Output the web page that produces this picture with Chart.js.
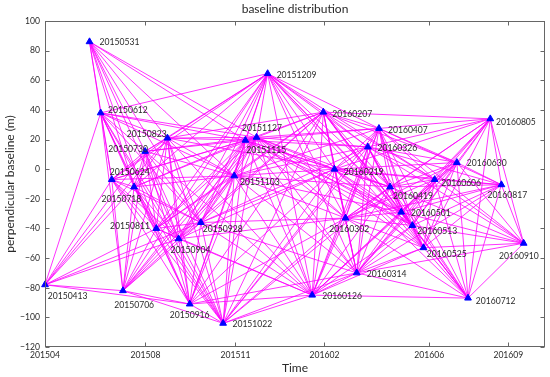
<!DOCTYPE html>
<html><head><meta charset="utf-8">
<script src="https://cdn.jsdelivr.net/npm/chart.js@4"></script>
<style>html,body{margin:0;padding:0;background:#fff}#c{display:block}</style>
</head><body>
<canvas id="c" width="550" height="377"></canvas>
<script>
// ---- data ----
const dates = ['20150413','20150531','20150612','20150624','20150706','20150718','20150730','20150811','20150823','20150904','20150916','20150928','20151022','20151103','20151115','20151127','20151209','20160126','20160207','20160219','20160302','20160314','20160326','20160407','20160419','20160501','20160513','20160525','20160606','20160630','20160712','20160805','20160817','20160910'];
const perpBaseline = [-78,86,38,-7,-82,-12,12,-40,21,-47,-91,-36,-104,-4.5,19.5,21.5,64.5,-85,38.5,0,-33,-70,15,27.5,-12,-29,-38,-53,-7,4.5,-87,34,-10.5,-50];
const xTickDays = [0,108.3,205.3,301.3,414.3,499.5];
const xTickLabels = ['201504','201508','201511','201602','201606','201609'];
const yMin = -120, yMax = 100, yStep = 20;
const xMaxDays = 539;
const maxTemporalDays = 180;   // network thresholds
const maxPerpMeters = 150;

// label placement (pixel offsets of label's left/middle from the marker)
const labelOffsets = [[2.7,11],[10,0.3],[7.3,-2.7],[-2,-7.3],[-8.7,14.7],[-32.6,12],[-37,-2],[-46.3,-2],[-40.6,-3.7],[-8,11.3],[-20,11],[2,7],[9.3,0.7],[5.7,6.7],[1,10.4],[-14.4,-8.7],[9,1.3],[10,1],[9,2.4],[9.3,2.7],[-16.3,10.7],[10,1.3],[9.6,1.6],[9,2],[3,9],[9.7,1],[5,5.7],[3.3,6.3],[6.6,3.7],[10,0.6],[7.7,3],[5.7,3],[-14,10.3],[-24.7,13]];

function toDay(s){return Date.UTC(+s.slice(0,4),+s.slice(4,6)-1,+s.slice(6,8))/86400000;}
const day0 = toDay(dates[0]);
const days = dates.map(d=>toDay(d)-day0);
const pts = days.map((d,i)=>({x:d,y:perpBaseline[i]}));

const edgeSets = [];
for(let i=0;i<pts.length;i++)for(let j=i+1;j<pts.length;j++){
  if(Math.abs(days[j]-days[i])<=maxTemporalDays && Math.abs(perpBaseline[j]-perpBaseline[i])<=maxPerpMeters){
    edgeSets.push({type:'scatter',showLine:true,data:[pts[i],pts[j]],borderColor:'rgba(255,0,255,0.8)',borderWidth:1,pointRadius:0,fill:false,order:2});
  }
}

const FONT='Lato';
const TXT='#2a2a2a';
const frame={id:'frame',afterDraw(ch){
  const {ctx,chartArea:a,scales:{x,y}}=ch;
  ctx.save();ctx.strokeStyle='#666';ctx.lineWidth=1;
  const L=Math.round(a.left)+0.5,R=Math.round(a.right)-0.5,T=Math.round(a.top)+0.5,B=Math.round(a.bottom)-0.5;
  ctx.strokeRect(L,T,R-L,B-T);
  ctx.beginPath();
  for(let v=yMin;v<=yMax;v+=yStep){const p=Math.round(y.getPixelForValue(v))+0.5;ctx.moveTo(L,p);ctx.lineTo(L+4,p);ctx.moveTo(R,p);ctx.lineTo(R-4,p);}
  xTickDays.forEach(v=>{const p=Math.round(x.getPixelForValue(v))+0.5;ctx.moveTo(p,B);ctx.lineTo(p,B-4);ctx.moveTo(p,T);ctx.lineTo(p,T+4);});
  ctx.stroke();ctx.restore();
}};
const labels={id:'dlabels',afterDatasetsDraw(ch){
  const {ctx,scales:{x,y}}=ch;
  ctx.save();ctx.font='8.6px '+FONT;ctx.fillStyle=TXT;ctx.textAlign='left';ctx.textBaseline='middle';
  pts.forEach((p,i)=>{ctx.fillText(dates[i],x.getPixelForValue(p.x)+labelOffsets[i][0],y.getPixelForValue(p.y)+labelOffsets[i][1]);});
  ctx.restore();
}};

new Chart(document.getElementById('c'),{
  type:'scatter',
  data:{datasets:[
    {data:pts,pointStyle:'triangle',pointRadius:3.9,pointBackgroundColor:'#0000ff',pointBorderColor:'#0000ff',pointBorderWidth:1,showLine:false,clip:false,order:1},
    ...edgeSets
  ]},
  options:{
    responsive:false,animation:false,devicePixelRatio:1,events:[],
    layout:{padding:{left:0,right:5,top:0,bottom:0}},
    plugins:{legend:{display:false},tooltip:{enabled:false},
      title:{display:true,fullSize:false,text:'baseline distribution',color:TXT,font:{family:FONT,size:12,weight:'normal',lineHeight:1.2},padding:{top:2,bottom:4.6}}},
    scales:{
      x:{type:'linear',min:0,max:xMaxDays,
        afterBuildTicks:s=>{s.ticks=xTickDays.map(v=>({value:v}));},
        afterFit:s=>{s.height=30;},
        ticks:{autoSkip:false,maxRotation:0,padding:3,color:TXT,font:{family:FONT,size:8.6},callback:(v,i)=>xTickLabels[i]},
        grid:{display:false,drawTicks:false},border:{display:false},
        title:{display:true,text:'Time',color:TXT,font:{family:FONT,size:12},padding:{top:0,bottom:1.8}}},
      y:{type:'linear',min:yMin,max:yMax,
        afterFit:s=>{s.width=45;},
        ticks:{stepSize:yStep,padding:5,color:TXT,font:{family:FONT,size:8.6},callback:v=>v<0?'\u2212'+Math.abs(v):String(v)},
        grid:{display:false,drawTicks:false},border:{display:false},
        title:{display:true,text:'perpendicular baseline (m)',color:TXT,font:{family:FONT,size:12},padding:{top:3}}}
    }
  },
  plugins:[frame,labels]
});
</script>
</body></html>
